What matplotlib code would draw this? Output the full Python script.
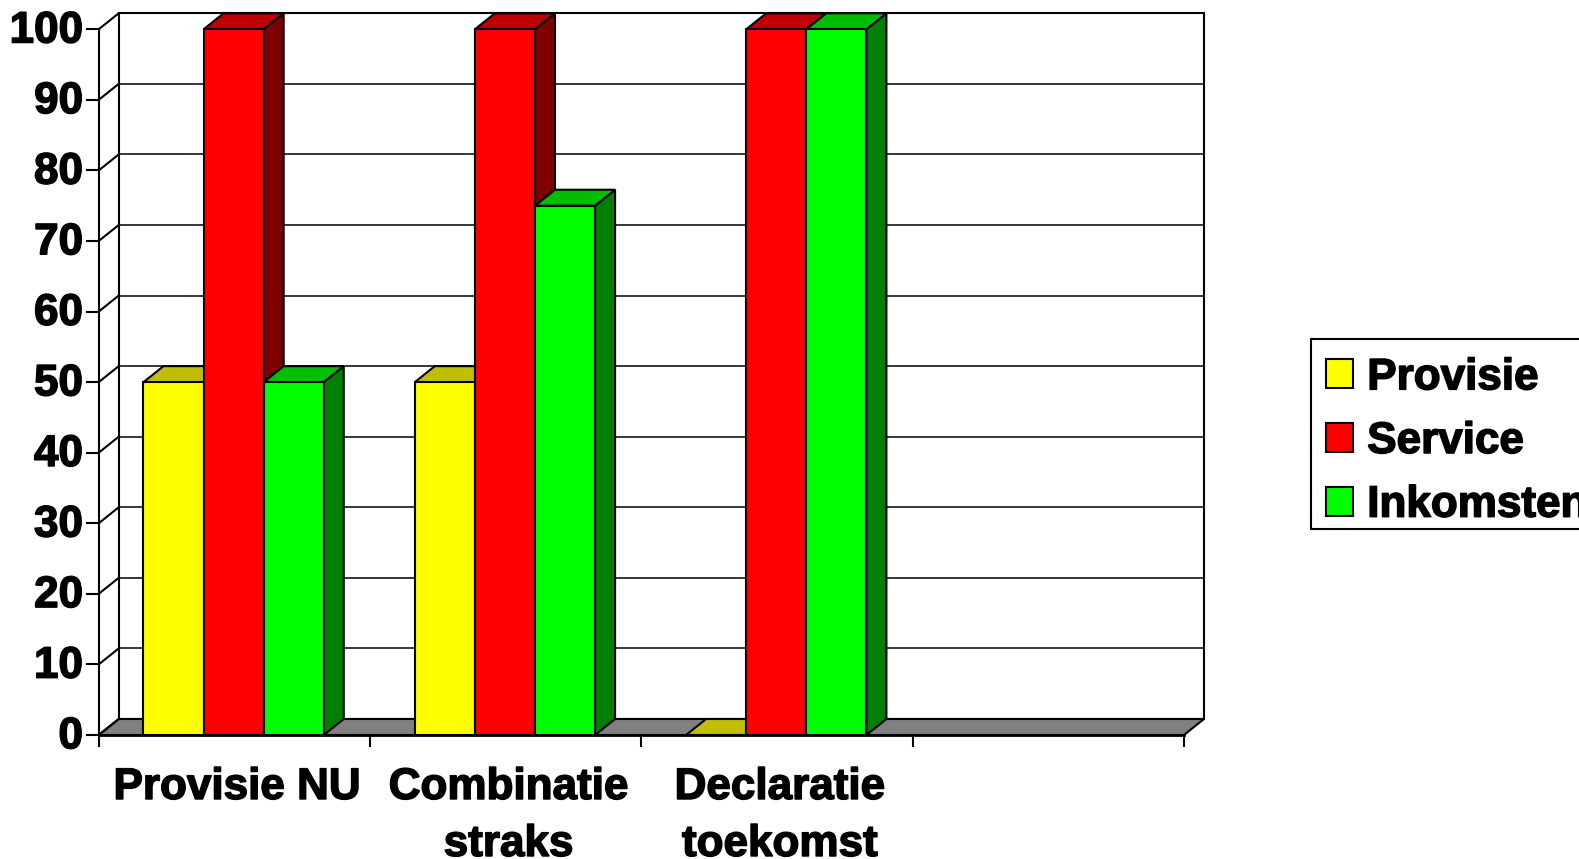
import matplotlib
matplotlib.use('Agg')
import matplotlib.pyplot as plt
import matplotlib.patheffects as pe
from matplotlib.legend_handler import HandlerPatch
from matplotlib.patches import Patch, Polygon, Rectangle
from matplotlib.transforms import ScaledTranslation

W, H = 1579, 859

categories = ['Provisie NU', 'Combinatie\nstraks', 'Declaratie\ntoekomst', '']
series = ['Provisie', 'Service', 'Inkomsten']
provisie = [50, 50, 0]
service = [100, 100, 100]
inkomsten = [50, 75, 100]
y_ticks = [0, 10, 20, 30, 40, 50, 60, 70, 80, 90, 100]

front = ['#FFFF00', '#FF0000', '#00FF00']
top = ['#BFBF00', '#BF0000', '#00BF00']
side = ['#7F7F00', '#7F0000', '#007F00']

plt.rcParams['font.family'] = ['Liberation Sans', 'DejaVu Sans']
plt.rcParams['font.weight'] = 'bold'

fig = plt.figure(figsize=(W / 100, H / 100), dpi=100, facecolor='white')

# axes = the front plane of the fake 3D box
left, right, y0, y100 = 98.7, 1184.0, 735.0, 29.3
ax = fig.add_axes([left / W, 1 - y0 / H, (right - left) / W, (y0 - y100) / H])
ax.set_xlim(0, 4)
ax.set_ylim(0, 100)
ax.patch.set_visible(False)

# depth of the box, in data units
dx = 20 / ((right - left) / 4)
dy = 16 / ((y0 - y100) / 100)
LW = 1.5
FS = 31.7
heavy = [pe.withStroke(linewidth=1.1, foreground='black')]


def poly(points, color, z):
    ax.add_patch(Polygon(points, closed=True, facecolor=color, edgecolor='black',
                         linewidth=LW, joinstyle='miter', clip_on=False, zorder=z))


def swatch(legend, orig_handle, xdescent, ydescent, width, height, fontsize):
    # leaves some room left of the box, borderpad alone can't do it
    shift = 2.9
    return Rectangle((shift - xdescent, -ydescent), width - shift, height)


# back wall and floor
ax.add_patch(Rectangle((dx, dy), 4, 100, facecolor='white', edgecolor='black',
                       linewidth=LW, clip_on=False, zorder=1))
poly([(0, 0), (4, 0), (4 + dx, dy), (dx, dy)], '#808080', 2)

# grid on the wall, with the diagonals down to the axis
for v in y_ticks[1:-1]:
    ax.plot([dx, 4 + dx], [v + dy, v + dy], color='black', lw=1.1, clip_on=False, zorder=2)
for v in y_ticks:
    ax.plot([0, dx], [v, v + dy], color='black', lw=LW, clip_on=False, zorder=2)

# bars
gap = 0.165
bar_w = 0.2215
z = 3
for i in range(3):
    for j, values in enumerate([provisie, service, inkomsten]):
        v = values[i]
        x0 = i + gap + j * bar_w
        x1 = x0 + bar_w
        poly([(x1, 0), (x1 + dx, dy), (x1 + dx, v + dy), (x1, v)], side[j], z)
        poly([(x0, v), (x1, v), (x1 + dx, v + dy), (x0 + dx, v + dy)], top[j], z)
        if v > 0:
            ax.bar(x0, v, bar_w, align='edge', color=front[j], edgecolor='black',
                   linewidth=LW, clip_on=False, zorder=z)
        z += 1

for s in ['top', 'right']:
    ax.spines[s].set_visible(False)
for s in ['left', 'bottom']:
    ax.spines[s].set_linewidth(LW)
    ax.spines[s].set_zorder(50)
ax.spines['bottom'].set_linewidth(2)

ax.set_yticks(y_ticks)
ax.tick_params(axis='y', length=9.4, width=LW, pad=2, labelsize=FS)
ax.set_xticks(range(5))
ax.set_xticklabels([])
ax.tick_params(axis='x', which='major', length=8.6, width=LW)
ax.set_xticks([0.51, 1.51, 2.51, 3.51], minor=True)
ax.set_xticklabels(categories, minor=True, fontsize=FS, linespacing=1.5)
ax.tick_params(axis='x', which='minor', length=0, pad=23)

up = ScaledTranslation(0, 2 / 72, fig.dpi_scale_trans)
for label in ax.get_yticklabels():
    label.set_transform(label.get_transform() + up)
    label.set_path_effects(heavy)
for label in ax.get_xticklabels(minor=True):
    label.set_path_effects(heavy)

# frame of the legend is separate, the rows don't sit centred in it
fig.add_artist(Rectangle((1311 / W, 1 - 529 / H), 400 / W, 190 / H, transform=fig.transFigure,
                         facecolor='white', edgecolor='black', linewidth=LW, zorder=1))
handles = [Patch(facecolor=c, edgecolor='black', linewidth=LW) for c in front]
leg = fig.legend(handles, series, loc='upper left', bbox_to_anchor=(1310 / W, 1 - 345 / H),
                 fontsize=FS, frameon=False,
                 borderaxespad=0, borderpad=0.28, handlelength=0.7, handleheight=0.63,
                 handletextpad=0.32, labelspacing=0.515,
                 handler_map={Patch: HandlerPatch(patch_func=swatch)})
for t in leg.get_texts():
    t.set_path_effects(heavy)

fig.savefig('out.png', dpi=100, facecolor='white')
